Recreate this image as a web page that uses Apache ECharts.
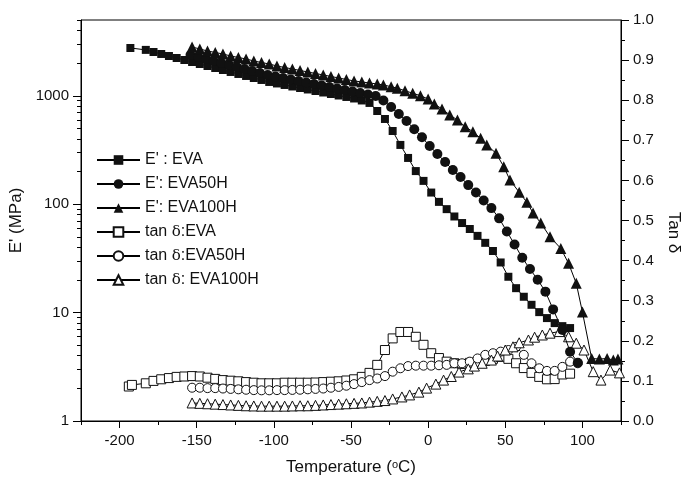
<!DOCTYPE html>
<html>
<head>
<meta charset="utf-8">
<script src="https://cdn.jsdelivr.net/npm/echarts@6/dist/echarts.min.js"></script>
<style>
  html, body { margin: 0; padding: 0; background: #fff; }
  #chart { width: 681px; height: 477px; }
</style>
</head>
<body>
<div id="chart"></div>
<script>
// storage modulus E' (MPa), log axis
const evaT = [-193, -183, -178, -173, -168, -163, -158, -153, -148, -143, -138, -133, -128, -123, -118, -113, -108, -103, -98, -93, -88, -83, -78, -73, -68, -63, -58, -53, -48, -43, -38, -33, -28, -23, -18, -13, -8, -3, 2, 7, 12, 17, 22, 27, 32, 37, 42, 47, 52, 57, 62, 67, 72, 77, 82, 87, 92];
const evaE = [2760, 2650, 2535, 2430, 2328, 2232, 2138, 2050, 1964, 1883, 1804, 1729, 1658, 1589, 1523, 1459, 1399, 1341, 1299, 1258, 1218, 1180, 1143, 1107, 1072, 1039, 1006, 975, 944, 905, 859, 724, 611, 473, 352, 267, 202, 164, 128, 105, 90, 77, 67, 59, 51, 44, 37, 29, 21.4, 16.8, 14.0, 11.8, 10.1, 8.9, 8.0, 7.5, 7.2];

const eva50T = [-154, -149, -144, -139, -134, -129, -124, -119, -114, -109, -104, -99, -94, -89, -84, -79, -74, -69, -64, -59, -54, -49, -44, -39, -34, -29, -24, -19, -14, -9, -4, 1, 6, 11, 16, 21, 26, 31, 36, 41, 46, 51, 56, 61, 66, 71, 76, 81, 87, 92, 97];
const eva50E = [2378, 2280, 2185, 2094, 2007, 1924, 1844, 1767, 1694, 1623, 1556, 1506, 1459, 1413, 1370, 1327, 1285, 1245, 1206, 1168, 1131, 1096, 1061, 1028, 996, 905, 788, 679, 586, 491, 414, 344, 290, 245, 207, 178, 150, 128, 108, 92, 74, 56, 42.5, 32, 25.2, 20.1, 15.6, 10.7, 6.9, 4.36, 3.45];

const eva100T = [-153, -148, -143, -138, -133, -128, -123, -118, -113, -108, -103, -98, -93, -88, -83, -78, -73, -68, -63, -58, -53, -48, -43, -38, -33, -29, -24, -20, -15, -10, -5, 0, 4, 9, 14, 19, 24, 29, 34, 38, 44, 49, 53, 59, 64, 68, 73, 79, 86, 91, 96, 100, 106, 111, 116, 120, 123];
const eva100E = [2820, 2701, 2589, 2508, 2430, 2328, 2256, 2185, 2094, 2028, 1964, 1883, 1824, 1767, 1711, 1658, 1606, 1556, 1507, 1459, 1413, 1370, 1341, 1312, 1285, 1258, 1213, 1173, 1114, 1055, 1002, 934, 840, 756, 665, 598, 519, 466, 405, 352, 295, 222, 167, 129, 104, 83, 67, 50, 39, 28.5, 18.6, 10.1, 3.77, 3.73, 3.77, 3.65, 3.73];

// tan delta
const tanEvaT = [-194, -192, -183, -178, -173, -168, -163, -158, -153, -148, -143, -138, -133, -128, -123, -118, -113, -108, -103, -98, -93, -88, -83, -78, -73, -68, -63, -58, -53, -48, -43, -38, -33, -28, -23, -18, -13, -8, -3, 2, 7, 12, 17, 22, 27, 32, 37, 42, 47, 52, 57, 62, 67, 72, 77, 82, 87, 92];
const tanEva = [0.086, 0.090, 0.094, 0.100, 0.104, 0.107, 0.110, 0.111, 0.112, 0.111, 0.108, 0.105, 0.102, 0.1005, 0.099, 0.097, 0.0955, 0.094, 0.094, 0.094, 0.0955, 0.0955, 0.0955, 0.0955, 0.096, 0.097, 0.098, 0.099, 0.101, 0.104, 0.110, 0.120, 0.140, 0.177, 0.206, 0.222, 0.222, 0.210, 0.190, 0.169, 0.157, 0.148, 0.144, 0.142, 0.145, 0.147, 0.150, 0.155, 0.160, 0.155, 0.144, 0.132, 0.120, 0.110, 0.104, 0.1045, 0.116, 0.118];

const tanEva50T = [-153, -148, -143, -138, -133, -128, -123, -118, -113, -108, -103, -98, -93, -88, -83, -78, -73, -68, -63, -58, -53, -48, -43, -38, -33, -28, -23, -18, -13, -8, -3, 2, 7, 12, 17, 22, 27, 32, 37, 42, 47, 52, 57, 62, 67, 72, 77, 82, 87, 92, 97];
const tanEva50 = [0.083, 0.083, 0.082, 0.082, 0.081, 0.080, 0.079, 0.078, 0.077, 0.0765, 0.0765, 0.077, 0.077, 0.0775, 0.078, 0.079, 0.080, 0.081, 0.083, 0.085, 0.088, 0.092, 0.097, 0.102, 0.106, 0.112, 0.123, 0.1315, 0.137, 0.138, 0.138, 0.138, 0.139, 0.140, 0.144, 0.144, 0.148, 0.156, 0.165, 0.169, 0.173, 0.177, 0.185, 0.165, 0.144, 0.1315, 0.125, 0.125, 0.135, 0.148, 0.144];

const tanEva100T = [-153, -148, -143, -138, -133, -128, -123, -118, -113, -108, -103, -98, -93, -88, -83, -78, -73, -68, -63, -58, -53, -48, -43, -38, -33, -28, -23, -17, -12, -6, -1, 5, 10, 15, 20, 26, 30, 35, 41, 45, 50, 55, 59, 65, 69, 74, 79, 85, 91, 96, 101, 107, 112, 118, 124];
const tanEva100 = [0.045, 0.044, 0.043, 0.042, 0.041, 0.040, 0.039, 0.038, 0.0375, 0.037, 0.037, 0.037, 0.037, 0.0375, 0.038, 0.038, 0.039, 0.040, 0.041, 0.042, 0.043, 0.044, 0.045, 0.047, 0.049, 0.051, 0.055, 0.060, 0.065, 0.072, 0.082, 0.092, 0.102, 0.111, 0.122, 0.130, 0.137, 0.144, 0.152, 0.162, 0.177, 0.185, 0.195, 0.202, 0.209, 0.2145, 0.219, 0.223, 0.210, 0.194, 0.177, 0.123, 0.102, 0.127, 0.120];

const xMajor = [-200, -150, -100, -50, 0, 50, 100];
const xMinor = [-225, -175, -125, -75, -25, 25, 75, 125];
const eMajor = [1, 10, 100, 1000];
const eMinor = [2, 3, 4, 5, 6, 7, 8, 9, 20, 30, 40, 50, 60, 70, 80, 90, 200, 300, 400, 500, 600, 700, 800, 900, 2000, 3000, 4000, 5000];

const FONT = "Liberation Sans, Arial, sans-serif";

function pairs(xs, ys) {
  return xs.map((x, i) => [x, ys[i]]);
}

function filled(name, symbol, size, xs, ys, yIdx) {
  return {
    name: name,
    type: "line",
    yAxisIndex: yIdx,
    data: pairs(xs, ys),
    symbol: symbol,
    symbolSize: size,
    z: 3,
    lineStyle: { color: "#000", width: 1 },
    itemStyle: { color: "#111" },
    emphasis: { disabled: true },
    animation: false,
  };
}

function hollow(name, symbol, size, xs, ys, yIdx) {
  return {
    name: name,
    type: "line",
    yAxisIndex: yIdx,
    data: pairs(xs, ys),
    symbol: symbol,
    symbolSize: size,
    z: 2,
    lineStyle: { color: "#000", width: 1 },
    itemStyle: { color: "#fff", borderColor: "#111", borderWidth: 1 },
    emphasis: { disabled: true },
    animation: false,
  };
}

const chart = echarts.init(document.getElementById("chart"));
chart.setOption({
  backgroundColor: "#fff",
  animation: false,
  textStyle: { fontFamily: FONT },
  grid: {
    left: 81,
    right: 60,
    top: 20,
    bottom: 56,
    outerBoundsMode: "none",
    containLabel: false,
    show: true,
    borderColor: "#000",
    borderWidth: 1,
  },
  legend: {
    orient: "vertical",
    left: 91,
    top: 147,
    itemWidth: 43,
    itemHeight: 12,
    itemGap: 8,
    textStyle: {
      fontFamily: FONT,
      fontSize: 16,
      color: "#111",
      rich: { d: { fontFamily: "DejaVu Serif", fontSize: 15, color: "#111" } },
    },
    formatter: (name) => name.replace("δ", "{d|δ}"),
    data: ["E' : EVA", "E': EVA50H", "E': EVA100H", "tan δ:EVA", "tan δ:EVA50H", "tan δ: EVA100H"],
  },
  xAxis: [
    {
      type: "value",
      min: -225,
      max: 125,
      position: "bottom",
      name: "Temperature ({s|o}C)",
      nameLocation: "middle",
      nameGap: 38,
      nameTextStyle: {
        fontFamily: FONT,
        fontSize: 17,
        color: "#111",
        rich: { s: { fontSize: 11, verticalAlign: "top", color: "#111" } },
      },
      axisLine: { onZero: false, lineStyle: { color: "#000", width: 1 } },
      axisTick: { length: 7, customValues: xMajor, lineStyle: { color: "#000" } },
      axisLabel: { customValues: xMajor, margin: 12, fontSize: 15, color: "#111", fontFamily: FONT },
      splitLine: { show: false },
    },
    {
      type: "value",
      min: -225,
      max: 125,
      position: "bottom",
      axisLine: { show: false, onZero: false },
      axisTick: { length: 4, customValues: xMinor, lineStyle: { color: "#000" } },
      axisLabel: { show: false },
      splitLine: { show: false },
    },
  ],
  yAxis: [
    {
      type: "log",
      min: 1,
      max: 5000,
      position: "left",
      name: "E' (MPa)",
      nameLocation: "middle",
      nameGap: 44,
      nameTextStyle: { fontFamily: FONT, fontSize: 17, color: "#111" },
      axisLine: { show: true, onZero: false, lineStyle: { color: "#000", width: 1 } },
      axisTick: { length: 8, customValues: eMajor, lineStyle: { color: "#000" } },
      axisLabel: {
        customValues: eMajor,
        margin: 12,
        fontSize: 15,
        color: "#111",
        fontFamily: FONT,
        formatter: (v) => String(Math.round(v)),
      },
      splitLine: { show: false },
    },
    {
      type: "log",
      min: 1,
      max: 5000,
      position: "left",
      axisLine: { show: false, onZero: false },
      axisTick: { length: 4, customValues: eMinor, lineStyle: { color: "#000" } },
      axisLabel: { show: false },
      splitLine: { show: false },
    },
    {
      type: "value",
      min: 0,
      max: 1,
      interval: 0.1,
      position: "right",
      name: "Tan δ",
      nameLocation: "middle",
      nameGap: 36,
      nameRotate: -90,
      nameTextStyle: { fontFamily: FONT, fontSize: 17, color: "#111", padding: [0, 0, 0, 24] },
      axisLine: { show: true, onZero: false, lineStyle: { color: "#000", width: 1 } },
      axisTick: { length: 8, lineStyle: { color: "#000" } },
      minorTick: { show: true, splitNumber: 2, length: 4, lineStyle: { color: "#000" } },
      axisLabel: {
        margin: 12,
        fontSize: 15,
        color: "#111",
        fontFamily: FONT,
        formatter: (v) => v.toFixed(1),
      },
      splitLine: { show: false },
    },
  ],
  series: [
    filled("E' : EVA", "rect", 8, evaT, evaE, 0),
    filled("E': EVA50H", "circle", 10, eva50T, eva50E, 0),
    filled("E': EVA100H", "triangle", 11, eva100T, eva100E, 0),
    hollow("tan δ:EVA", "rect", 9, tanEvaT, tanEva, 2),
    hollow("tan δ:EVA50H", "circle", 9, tanEva50T, tanEva50, 2),
    hollow("tan δ: EVA100H", "triangle", 10, tanEva100T, tanEva100, 2),
  ],
});
</script>
</body>
</html>
